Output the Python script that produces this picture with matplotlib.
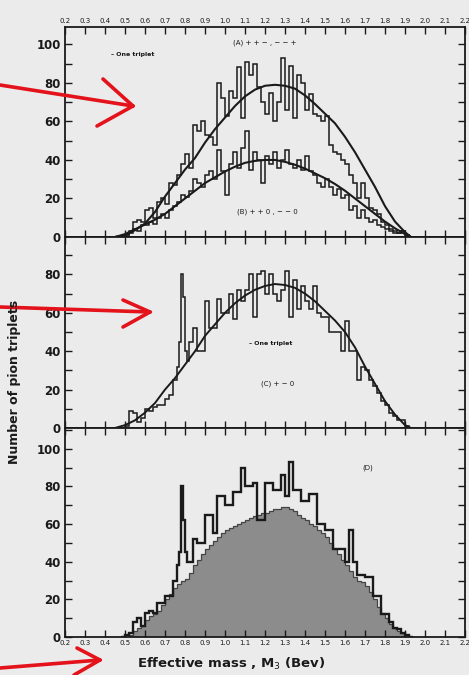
import numpy as np
import matplotlib
matplotlib.use("Agg")
import matplotlib.pyplot as plt

# ---- data (counts per 0.02 Bev bin) ----
a_start = 0.48
hist_a = [0, 1, 3, 8, 9, 8, 14, 15, 10, 18, 20, 17, 28, 27, 32, 38, 43, 36, 58, 55,
          60, 53, 52, 48, 80, 72, 63, 76, 72, 88, 62, 91, 84, 90, 78, 70, 64, 75, 60, 70,
          93, 66, 89, 62, 84, 80, 66, 74, 64, 63, 60, 63, 48, 44, 43, 40, 38, 32, 28, 20,
          28, 20, 15, 14, 12, 8, 6, 4, 3, 2, 3, 1, 0]
hist_b = [0, 1, 2, 4, 3, 6, 6, 8, 7, 10, 12, 10, 14, 16, 18, 22, 21, 24, 30, 28,
          26, 32, 34, 30, 45, 34, 22, 38, 44, 36, 46, 55, 35, 44, 40, 28, 42, 38, 44, 36,
          40, 45, 38, 36, 40, 35, 42, 34, 32, 28, 26, 30, 26, 22, 25, 20, 22, 14, 16, 10,
          14, 10, 8, 9, 6, 5, 4, 3, 2, 2, 3, 1, 0]

# phase-space curves, read at 0.05 steps
curve_x = [0.45, 0.50, 0.55, 0.60, 0.65, 0.70, 0.75, 0.80, 0.85, 0.90, 0.95, 1.00,
           1.05, 1.10, 1.15, 1.20, 1.25, 1.30, 1.35, 1.40, 1.45, 1.50, 1.55, 1.60,
           1.65, 1.70, 1.75, 1.80, 1.85, 1.90, 1.93]
curve_a = [0, 1, 3.5, 7, 13, 21, 28, 35, 41, 49, 56, 62, 68, 73, 76.5, 78.5, 79, 78.5,
           77, 73.5, 69, 64, 59, 52, 44, 35, 26, 16, 8, 2.5, 0]
curve_b = [0, 1.5, 4, 6.5, 9, 12, 16, 20, 24, 28, 31, 34, 36.5, 38.5, 39.5, 40, 40, 39,
           37.5, 35.5, 33, 30.5, 27.5, 24, 20, 16, 12, 8, 4.5, 1.5, 0]
curve_c = [0, 1.5, 4, 8, 13, 20, 26, 33, 40, 48, 54, 60, 65, 69, 72, 74, 75, 74.5, 73,
           70, 66, 61, 56, 50, 42, 32, 23, 14, 7, 1.5, 0]

# (C) +-0 : 0.02 bins with 0.01 bins across the omega peak
c_low = [0, 1, 9, 8, 3, 5, 10, 9, 11, 12, 12, 15, 17, 25]           # 0.48 - 0.76
c_peak = [32, 45, 80, 68, 40, 35]                                     # 0.76 - 0.82
c_high = [45, 52, 40, 40, 66, 52, 52, 67, 60, 60, 70, 57, 72, 66, 72, 80, 58, 80,
          82, 70, 80, 70, 66, 72, 82, 58, 77, 62, 74, 66, 62, 74, 60, 58, 58, 50, 50,
          50, 40, 56, 40, 40, 25, 32, 30, 25, 22, 18, 14, 12, 8, 6, 4, 4, 1, 0]  # 0.82 - 1.94

# (D) outline and shaded histogram
d_low = [0, 1, 2, 8, 10, 6, 13, 14, 13, 18, 18, 22, 22, 30]
d_peak = [38, 45, 80, 62, 45, 40]
d_high = [40, 52, 50, 50, 65, 65, 55, 75, 75, 70, 70, 77, 77, 90, 80, 80, 82, 62, 62,
          82, 82, 78, 78, 86, 75, 93, 78, 78, 72, 72, 76, 76, 60, 60, 57, 57, 47, 47,
          47, 40, 57, 40, 33, 33, 32, 32, 22, 22, 12, 12, 8, 5, 4, 2, 1, 0]
d_shade = [0, 0, 1, 3, 5, 6, 9, 11, 12, 14, 17, 20, 23, 26, 28, 30, 31, 34, 38, 41,
           44, 47, 49, 51, 53, 55, 57, 58, 59, 60, 61, 62, 63, 64, 65, 66, 66, 67, 68,
           68, 69, 69, 68, 67, 65, 63, 62, 60, 59, 57, 55, 53, 50, 47, 44, 41, 38, 35,
           32, 30, 29, 27, 24, 20, 16, 13, 10, 7, 5, 3, 2, 1, 0]

# red hand-drawn arrows (figure pixels): shaft start, tip, head ends
arrows = [((0, 85), (133, 106), (103, 79), (97, 126)),
          ((0, 307), (150, 312), (123, 300), (123, 327)),
          ((0, 668), (100, 660), (77, 648), (74, 675))]

W, H = 469, 675
BG = "#ebebeb"
INK = "#1a1a1a"


def edges_from(start, n, step=0.02):
    return start + step * np.arange(n + 1)


def split_edges(lo, peak, hi):
    e1 = edges_from(0.48, len(lo))
    e2 = edges_from(e1[-1], len(peak), 0.01)[1:]
    e3 = edges_from(e2[-1], len(hi))[1:]
    return np.concatenate([e1, e2, e3]), np.array(lo + peak + hi, dtype=float)


def style_axis(ax, ymax, top_labels=False, bottom_labels=False):
    ax.set_facecolor(BG)
    ax.set_xlim(0.2, 2.2)
    ax.set_ylim(0, ymax)
    ax.set_xticks(np.arange(0.2, 2.21, 0.1))
    ax.set_yticks(np.arange(0, ymax, 20))
    ax.set_yticks(np.arange(0, ymax, 10), minor=True)
    ax.tick_params(axis="both", which="both", direction="in", top=True, right=True,
                   length=5, width=1.0, color=INK)
    ax.tick_params(axis="y", labelsize=8.5, pad=3, labelcolor=INK)
    for lab in ax.get_yticklabels():
        lab.set_fontweight("bold")
    xl = [f"{v:.1f}" for v in np.arange(0.2, 2.21, 0.1)]
    ax.set_xticklabels(xl)
    ax.tick_params(axis="x", labelsize=5, pad=2, labelcolor=INK,
                   labeltop=top_labels, labelbottom=bottom_labels)
    for s in ax.spines.values():
        s.set_linewidth(1.3)
        s.set_color(INK)


fig = plt.figure(figsize=(W / 100, H / 100), dpi=100, facecolor=BG)
left, width = 65 / W, 400 / W
ax_a = fig.add_axes([left, 1 - 237 / H, width, 210 / H])
ax_c = fig.add_axes([left, 1 - 428 / H, width, 191 / H])
ax_d = fig.add_axes([left, 1 - 637 / H, width, 209 / H])

# ---- panel A/B ----
ea = edges_from(a_start, len(hist_a))
ax_a.stairs(hist_a, ea, color=INK, lw=1.1)
ax_a.stairs(hist_b, ea, color=INK, lw=1.1)
ax_a.plot(curve_x, curve_a, color=INK, lw=1.5)
ax_a.plot(curve_x, curve_b, color=INK, lw=1.5)
style_axis(ax_a, 109, top_labels=True)
ax_a.text(0.43, 94, "\u2013 One triplet", fontsize=4.5, fontweight="bold", color=INK)
ax_a.text(1.2, 100, "(A) + + \u2212 , \u2212 \u2212 +", fontsize=5, color=INK, ha="center")
ax_a.text(1.06, 12, "(B) + + 0 , \u2212 \u2212 0", fontsize=5, color=INK)

# ---- panel C ----
ec, vc = split_edges(c_low, c_peak, c_high)
ax_c.stairs(vc, ec, color=INK, lw=1.1)
ax_c.plot(curve_x, curve_c, color=INK, lw=1.4)
style_axis(ax_c, 99.5)
ax_c.text(1.12, 43, "\u2013 One triplet", fontsize=4.5, fontweight="bold", color=INK)
ax_c.text(1.18, 22, "(C) + \u2212 0", fontsize=5, color=INK)

# ---- panel D ----
ax_d.stairs(d_shade, ea, fill=True, color="#8c8c8c", lw=0)
ax_d.stairs(d_shade, ea, color="#444444", lw=0.9)
ed, vd = split_edges(d_low, d_peak, d_high)
ax_d.stairs(vd, ed, color=INK, lw=1.7)
style_axis(ax_d, 111, bottom_labels=True)
ax_d.text(1.715, 89, "(D)", fontsize=5, color=INK, ha="center")

fig.text(15 / W, 1 - 382 / H, "Number of pion triplets", rotation=90,
         ha="center", va="center", fontsize=9, fontweight="bold", color=INK)
fig.text(231 / W, 1 - 664 / H, "Effective mass , M$_3$ (Bev)",
         ha="center", va="center", fontsize=9.5, fontweight="bold", color=INK)

# red arrows
for start, tip, h1, h2 in arrows:
    px = lambda p: (p[0] / W, 1 - p[1] / H)
    for a, b in [(start, tip), (h1, tip), (h2, tip)]:
        pa, pb = px(a), px(b)
        fig.add_artist(plt.Line2D([pa[0], pb[0]], [pa[1], pb[1]], color="#e3121b",
                                  lw=2.6, solid_capstyle="round",
                                  transform=fig.transFigure))

fig.savefig("out.png", dpi=100, facecolor=BG)
